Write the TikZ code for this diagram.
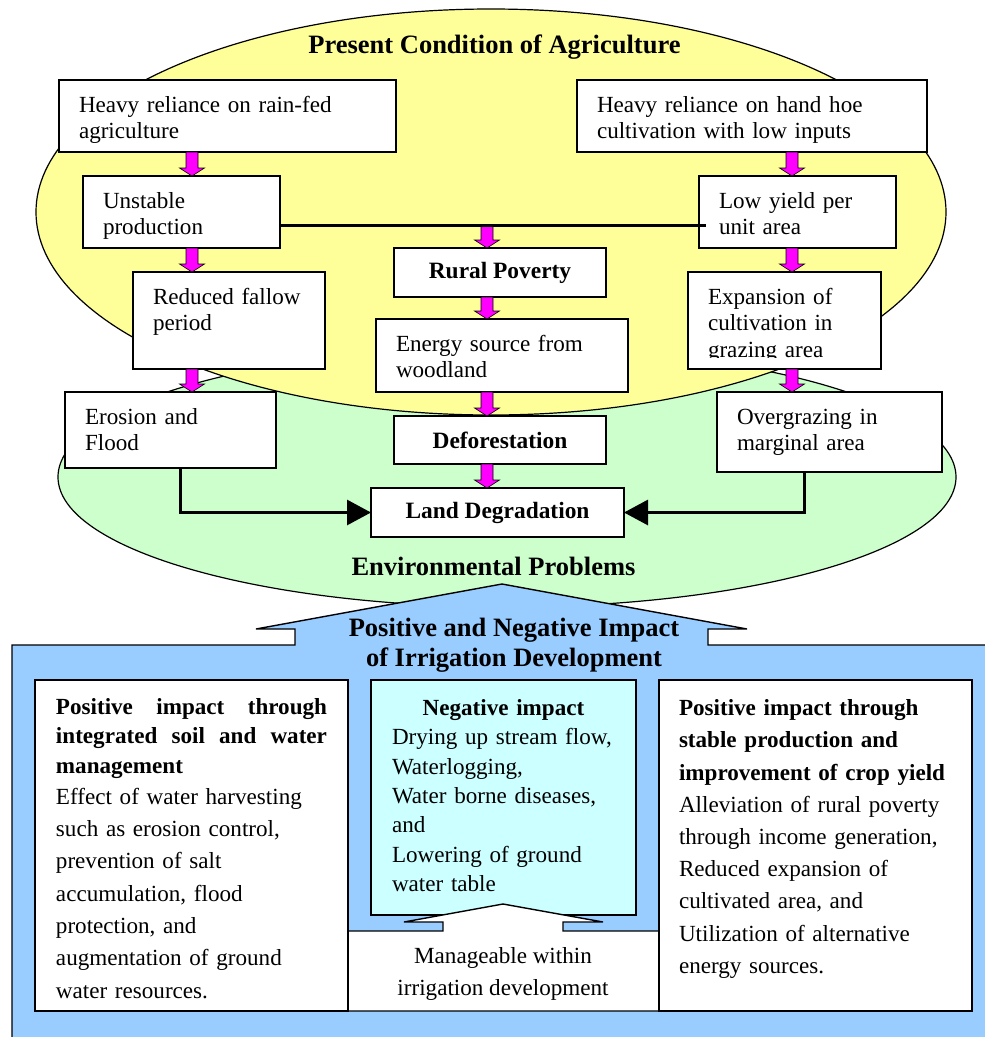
\documentclass[tikz,border=0pt]{standalone}
\usepackage{fontspec}
\setmainfont{Liberation Serif}
\usetikzlibrary{arrows.meta,calc}

\definecolor{agriyellow}{HTML}{FFFF99}
\definecolor{envgreen}{HTML}{CCFFCC}
\definecolor{irrblue}{HTML}{99CCFF}
\definecolor{negcyan}{HTML}{CCFFFF}
\definecolor{flowmagenta}{HTML}{FF00FF}

\newcommand{\boxfont}{\fontsize{23.1pt}{26.5pt}\selectfont}
\newcommand{\keyfont}{\fontsize{23.4pt}{26.5pt}\selectfont\bfseries}
\newcommand{\headfont}{\fontsize{26.5pt}{30pt}\selectfont\bfseries}

\begin{document}
\begin{tikzpicture}[x=1pt,y=-1pt,
  % text sits at the top of each flow box: first baseline 32pt below the top edge,
  % the closing rule pads the last line down to the bottom edge
  stepbox/.style={draw=black, line width=1.4pt, fill=white, inner xsep=20pt,
    inner ysep=0pt, outer sep=0pt, align=left, font=\boxfont,
    execute at begin node={\rule{0pt}{32pt}}},
  endgap/.style={execute at end node={\rule[-#1pt]{0pt}{0pt}}},
  keybox/.style={draw=black, line width=1.4pt, fill=white, inner sep=0pt,
    outer sep=0pt, align=center, font=\keyfont},
  panel/.style={draw=black, line width=1.4pt, fill=white, inner ysep=0pt,
    outer sep=0pt, align=left},
  heading/.style={font=\headfont, align=center, inner sep=0pt},
  zone/.style={draw=black, line width=1.2pt},
  magarrow/.style={fill=flowmagenta, draw=black, line width=0.6pt,
    to path={let \p1=(\tikztostart), \p2=(\tikztotarget) in
      (\x1-6pt,\y1) -- (\x1-6pt,\y2+8pt) -- (\x1-12.5pt,\y2+8pt) -- (\x1,\y2)
      -- (\x1+12.5pt,\y2+8pt) -- (\x1+6pt,\y2+8pt) -- (\x1+6pt,\y1) -- cycle}},
  merge/.style={line width=3pt, -{Triangle[length=24pt,width=25pt]}},
]
\useasboundingbox (0,0) rectangle (985,1037);
\clip (0,0) rectangle (985,1037);

% background zones
\fill[white] (0,0) rectangle (985,1037);
\draw[zone, fill=envgreen] (507,477) ellipse [x radius=449pt, y radius=130pt];
\draw[zone, fill=agriyellow] (491,212) ellipse [x radius=455pt, y radius=203pt];

% irrigation block with its upward arrow head
\filldraw[fill=irrblue, draw=black, line width=1.4pt]
  (12,1050) -- (12,645) -- (295,645) -- (295,629) -- (256,629) -- (502,584)
  -- (747,629) -- (708,629) -- (708,645) -- (1000,645) -- (1000,1050) -- cycle;

% zone headings
\node[heading] (present) at (494.5,47) {Present Condition of Agriculture};
\node[heading] (envprob) at (493.5,566) {Environmental Problems};
\node[heading] (irrtitle) at (514,645) {Positive and Negative Impact\\of Irrigation Development};

% flow chart boxes
\node[stepbox, endgap=13.5, text width=297pt, minimum height=72pt] (rainfed) at (227.5,116)
  {Heavy reliance on rain-fed\\agriculture};
\node[stepbox, endgap=13.5, text width=310pt, minimum height=72pt] (handhoe) at (752,116)
  {Heavy reliance on hand hoe\\cultivation with low inputs};
\node[stepbox, endgap=13.5, text width=157pt, minimum height=72pt] (unstable) at (181.5,212)
  {Unstable\\production};
\node[stepbox, endgap=13.5, text width=157pt, minimum height=72pt] (lowyield) at (797.5,212)
  {Low yield per\\unit area};
\node[stepbox, endgap=38.5, text width=152pt, minimum height=97pt] (fallow) at (229,320.5)
  {Reduced fallow\\period};
\node[keybox, minimum width=212pt, minimum height=49pt] (poverty) at (500,272.5)
  {Rural Poverty};
\node[stepbox, endgap=14.5, text width=212pt, minimum height=73pt] (energy) at (502,355.5)
  {Energy source from\\woodland};
\node[stepbox, endgap=12, text width=153pt, minimum height=97pt] (expansion) at (784.5,320.5)
  {Expansion of\\cultivation in\\grazing area};
% the text frame of this box cuts its last line at the baseline
\fill[white] ([xshift=0.7pt,yshift=11pt]expansion.south west) rectangle ([xshift=-0.7pt,yshift=0.7pt]expansion.south east);
\node[stepbox, endgap=17.5, text width=171pt, minimum height=76pt] (erosion) at (170.5,430)
  {Erosion and\\Flood};
\node[keybox, minimum width=212pt, minimum height=48pt] (deforest) at (500,440)
  {Deforestation};
\node[stepbox, endgap=21.5, text width=185pt, minimum height=80pt] (overgraze) at (829.5,432)
  {Overgrazing in\\marginal area};
\node[keybox, minimum width=253pt, minimum height=49pt] (landdeg) at (497.5,512.5)
  {Land Degradation};

% columns of the downward block arrows
\coordinate (colL) at (192,0);
\coordinate (colC) at (487,0);
\coordinate (colR) at (792,0);
\coordinate (junction) at (487,225);

\draw[magarrow] (rainfed.south -| colL) to (unstable.north -| colL);
\draw[magarrow] (unstable.south -| colL) to (fallow.north -| colL);
\draw[magarrow] (fallow.south -| colL) to (erosion.north -| colL);
\draw[magarrow] (handhoe.south -| colR) to (lowyield.north -| colR);
\draw[magarrow] (lowyield.south -| colR) to (expansion.north -| colR);
\draw[magarrow] (expansion.south -| colR) to (overgraze.north -| colR);
\draw[magarrow] (junction) to (poverty.north -| colC);
\draw[magarrow] (poverty.south -| colC) to (energy.north -| colC);
\draw[magarrow] (energy.south -| colC) to (deforest.north -| colC);
\draw[magarrow] (deforest.south -| colC) to (landdeg.north -| colC);

% bar joining the two production problems
\draw[line width=3pt] ([yshift=-13pt]unstable.east) -- ([xshift=7pt,yshift=-13pt]lowyield.west);

% side flows into land degradation
\coordinate (dropL) at (180,0);
\coordinate (dropR) at (804,0);
\draw[merge] (erosion.south -| dropL) |- (landdeg.west);
\draw[merge] (overgraze.south -| dropR) |- (landdeg.east);

% impact panels
\node[panel, fill=negcyan, text width=223pt, inner xsep=21pt, minimum height=235pt,
  font=\fontsize{23.1pt}{29.3pt}\selectfont] (negative) at (503.5,797.5)
  {\makebox[223pt][c]{\bfseries Negative impact}\\
   Drying up stream flow,\\
   Waterlogging,\\
   Water borne diseases,\\
   and\\
   Lowering of ground\\
   water table\rule[-4pt]{0pt}{0pt}};

\filldraw[fill=white, draw=black, line width=1.4pt]
  (347,1011) -- (347,931) -- (443,931) -- (443,922) -- (404,922) -- (503,904)
  -- (603,922) -- (563,922) -- (563,931) -- (659,931) -- (659,1011) -- cycle;
\node[align=center, inner sep=0pt, font=\fontsize{23.1pt}{32pt}\selectfont] (manage)
  at (503,974) {Manageable within\\irrigation development};

\node[panel, text width=271pt, inner xsep=21pt, minimum height=331pt,
  font=\fontsize{23.1pt}{29.3pt}\selectfont] (posleft) at (191.5,845.5)
  {\makebox[271pt]{\bfseries\rule{0pt}{22pt}Positive\hfill impact\hfill through}\\
   \makebox[271pt]{\bfseries integrated\hfill soil\hfill and\hfill water}\\
   \textbf{management}\\[2pt]
   Effect of water harvesting\\[3pt]
   such as erosion control,\\[3pt]
   prevention of salt\\[3pt]
   accumulation, flood\\[3pt]
   protection, and\\[3pt]
   augmentation of ground\\[3pt]
   water resources.};

\node[panel, text width=273pt, inner xsep=20pt, minimum height=331pt,
  font=\fontsize{23.1pt}{32.2pt}\selectfont] (posright) at (815.5,845.5)
  {\textbf{Positive impact through}\\
   \textbf{stable production and}\\
   \textbf{improvement of crop yield}\\
   Alleviation of rural poverty\\
   through income generation,\\
   Reduced expansion of\\
   cultivated area, and\\
   Utilization of alternative\\
   energy sources.\rule[-18pt]{0pt}{0pt}};
\end{tikzpicture}
\end{document}
